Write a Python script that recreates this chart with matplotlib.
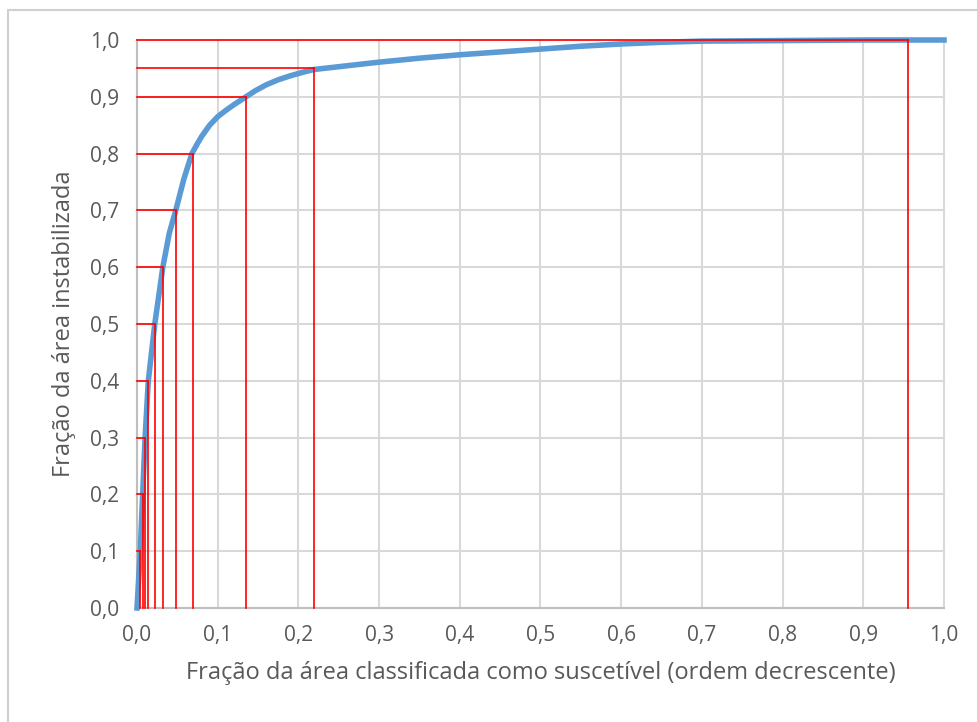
import matplotlib.pyplot as plt
from matplotlib.patches import Rectangle

plt.rcParams['font.family'] = ['Open Sans', 'DejaVu Sans']

# curve: fraction of susceptible area vs fraction of unstable area
curve_x = [0, 0.002, 0.004, 0.007, 0.010, 0.014, 0.022, 0.032, 0.040, 0.048, 0.058,
           0.068, 0.075, 0.08, 0.09, 0.10, 0.11, 0.12, 0.135, 0.147, 0.16, 0.175, 0.19,
           0.205, 0.219, 0.25, 0.30, 0.35, 0.40, 0.45, 0.50, 0.55, 0.60, 0.65, 0.70,
           0.80, 0.90, 1.0]
curve_y = [0, 0.05, 0.10, 0.20, 0.30, 0.40, 0.50, 0.60, 0.66, 0.70, 0.755,
           0.80, 0.818, 0.830, 0.850, 0.865, 0.876, 0.886, 0.90, 0.911, 0.921, 0.930, 0.937,
           0.943, 0.948, 0.953, 0.961, 0.968, 0.974, 0.979, 0.984, 0.989, 0.993, 0.996, 0.998,
           0.999, 1.0, 1.0]

# reference levels (red lines)
level_y = [0.1, 0.2, 0.3, 0.4, 0.5, 0.6, 0.7, 0.8, 0.9, 0.95, 1.0]
level_x = [0.004, 0.007, 0.010, 0.014, 0.022, 0.032, 0.048, 0.069, 0.135, 0.219, 0.955]

ticks = [i / 10 for i in range(11)]
tick_labels = [f"{t:.1f}".replace('.', ',') for t in ticks]

fig = plt.figure(figsize=(9.78, 7.22), dpi=100)
ax = fig.add_axes([0.1401, 0.1579, 0.8251, 0.7867])

# outer frame of the chart
fig.patches.append(Rectangle((8 / 978, -0.01), 1.0, 1.0 - 10 / 722 + 0.01,
                             transform=fig.transFigure, fill=False,
                             edgecolor='#d0d0d0', linewidth=1.5))

ax.plot(curve_x, curve_y, color='#5b9bd5', linewidth=4, zorder=3, clip_on=False,
        solid_joinstyle='round')

for lx, ly in zip(level_x, level_y):
    ax.plot([0, lx], [ly, ly], color='red', linewidth=1.2, zorder=4, clip_on=False)
    ax.plot([lx, lx], [0, ly], color='red', linewidth=1.2, zorder=4, clip_on=False)

ax.set_xlim(0, 1)
ax.set_ylim(0, 1)
ax.set_xticks(ticks)
ax.set_yticks(ticks)
ax.set_xticklabels(tick_labels)
ax.set_yticklabels(tick_labels)
ax.tick_params(length=0, labelsize=15, labelcolor='#595959')
ax.tick_params(axis='x', pad=12)
ax.tick_params(axis='y', pad=13)

for t in ticks:
    ax.axvline(t, color='#d9d9d9', linewidth=1.5, zorder=1, clip_on=False)
    ax.axhline(t, color='#d9d9d9', linewidth=1.5, zorder=1, clip_on=False)

for s in ['top', 'right']:
    ax.spines[s].set_visible(False)
for s in ['left', 'bottom']:
    ax.spines[s].set_color('#bfbfbf')
    ax.spines[s].set_linewidth(1.5)

ax.set_xlabel('Fração da área classificada como suscetível (ordem decrescente)',
              fontsize=17, color='#595959', labelpad=11)
ax.set_ylabel('Fração da área instabilizada', fontsize=17, color='#595959', labelpad=10)

fig.savefig('out.png', dpi=100)
